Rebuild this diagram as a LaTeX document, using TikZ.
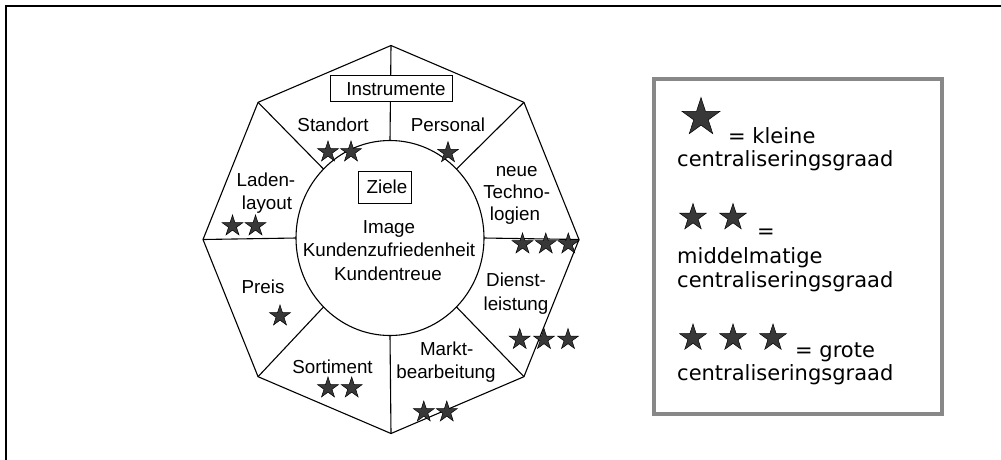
\documentclass[tikz,border=0pt]{standalone}
\usepackage{fontspec}
\setmainfont{Liberation Sans}
\newfontfamily\legendfont{DejaVu Sans}
\usetikzlibrary{shapes.geometric}
\definecolor{starfill}{HTML}{383838}
\definecolor{framegray}{HTML}{888888}
\begin{document}
\begin{tikzpicture}[x=1pt,y=-1pt,
  lbl/.style={anchor=base, inner sep=0pt, font=\fontsize{18.8}{22}\selectfont},
  leg/.style={anchor=base west, inner sep=0pt, font=\legendfont\fontsize{21}{24}\selectfont},
  starmark/.style={star, star points=5, star point ratio=2.618, inner sep=0pt,
    minimum size=22pt, draw=black, line width=0.5pt, fill=starfill},
  legstar/.style={starmark, minimum size=28pt},
  edge/.style={line width=1.1pt, black},
  tagbox/.style={draw=black, line width=1pt, fill=white, inner sep=0pt}
]
\useasboundingbox (0,0) rectangle (1001,459);

% outer frame, open to the right and bottom
\draw[line width=2pt] (6,465) -- (6,6) -- (1005,6);

% octagon corners and the matching points on the inner circle
\foreach \i in {0,...,7} {
  \coordinate (v\i) at ({391+188*cos(45*\i)},{239.5-194*sin(45*\i)});
  \coordinate (c\i) at ({390+94*cos(45*\i)},{238-97.5*sin(45*\i)});
}
\coordinate (mid) at (390,238);

\draw[edge] (v0) -- (v1) -- (v2) -- (v3) -- (v4) -- (v5) -- (v6) -- (v7) -- cycle;
\draw[edge] (mid) ellipse [x radius=94pt, y radius=97.5pt];
\foreach \i in {0,...,7} { \draw[edge] (c\i) -- (v\i); }

% headings in boxes
\node[tagbox, minimum width=122pt, minimum height=26pt] (instbox) at (391,88) {};
\node[lbl] (inst) at (396,95) {Instrumente};
\node[tagbox, minimum width=53pt, minimum height=32pt] (zielbox) at (384.5,187) {};
\node[lbl] (ziele) at (387,193.3) {Ziele};

% goals in the centre
\node[lbl] (image) at (389,233.3) {Image};
\node[lbl] (kzuf) at (389,256.7) {Kundenzufriedenheit};
\node[lbl] (ktreue) at (388,280) {Kundentreue};

% instrument segments
\node[lbl] (standort) at (333,131) {Standort};
\node[lbl] (personal) at (448,131) {Personal};
\node[lbl] (laden1) at (266,186.7) {Laden-};
\node[lbl] (laden2) at (267,209.3) {layout};
\node[lbl] (tech1) at (516.7,176.7) {neue};
\node[lbl] (tech2) at (516.7,198.3) {Techno-};
\node[lbl] (tech3) at (515,220) {logien};
\node[lbl] (preis) at (263,293.3) {Preis};
\node[lbl] (dienst1) at (516,286.7) {Dienst-};
\node[lbl] (dienst2) at (516,310) {leistung};
\node[lbl] (sortiment) at (332.5,373.3) {Sortiment};
\node[lbl] (markt1) at (446.7,355) {Markt-};
\node[lbl] (markt2) at (446,378.3) {bearbeitung};

% centralisation stars per segment
\node[starmark] (sS1) at (328,152) {};
\node[starmark] (sS2) at (351,152) {};
\node[starmark] (sP1) at (448,152.7) {};
\node[starmark] (sL1) at (232.5,226) {};
\node[starmark] (sL2) at (255.5,226) {};
\node[starmark] (sT1) at (522.5,244) {};
\node[starmark] (sT2) at (545.8,244) {};
\node[starmark] (sT3) at (568.3,244) {};
\node[starmark] (sPr1) at (280,316) {};
\node[starmark] (sD1) at (519.7,339.5) {};
\node[starmark] (sD2) at (544,339.5) {};
\node[starmark] (sD3) at (568,339.5) {};
\node[starmark] (sSo1) at (328,388) {};
\node[starmark] (sSo2) at (351.7,388) {};
\node[starmark] (sM1) at (423.8,412) {};
\node[starmark] (sM2) at (446.8,412) {};

% legend
\draw[framegray, line width=4.2pt] (654,79) rectangle (942,414);
\node[starmark, minimum size=40pt] (lg1) at (701,117.5) {};
\node[leg] (lgt1) at (728,143) {= kleine};
\node[leg] (lgt1b) at (677,166) {centraliseringsgraad};
\node[legstar] (lg2a) at (693,217.5) {};
\node[legstar] (lg2b) at (733,217.5) {};
\node[leg] (lgt2) at (757,238) {=};
\node[leg] (lgt2b) at (677,263) {middelmatige};
\node[leg] (lgt2c) at (677,287) {centraliseringsgraad};
\node[legstar] (lg3a) at (693,338) {};
\node[legstar] (lg3b) at (733,338) {};
\node[legstar] (lg3c) at (773,338) {};
\node[leg] (lgt3) at (795,357) {= grote};
\node[leg] (lgt3b) at (677,380) {centraliseringsgraad};
\end{tikzpicture}
\end{document}
